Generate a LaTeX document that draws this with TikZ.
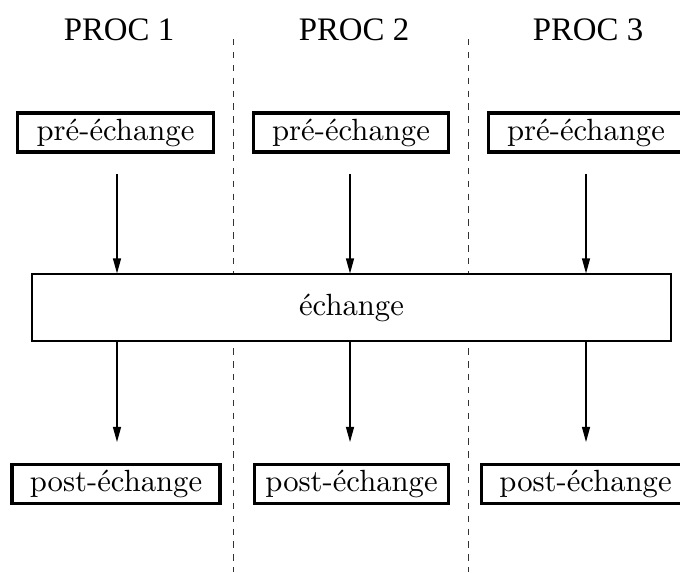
\documentclass[tikz,border=0pt]{standalone}
\usepackage{fontspec}
\newfontfamily\procfont{Liberation Serif}
\usetikzlibrary{arrows.meta}
\begin{document}
\begin{tikzpicture}[x=0.326pt,y=-0.326pt,
  proclabel/.style={font=\procfont\fontsize{10.7pt}{12pt}\selectfont,anchor=base,inner sep=0pt},
  prebox/.style={draw,line width=1pt,minimum width=63.6pt,minimum height=12.7pt,inner sep=0pt},
  postbox/.style={draw,line width=1pt,minimum width=67.8pt,minimum height=13pt,inner sep=0pt},
  exbox/.style={draw,line width=0.4pt,minimum width=208.3pt,minimum height=21.8pt,inner sep=0pt},
  arr/.style={line width=0.4pt,-{Triangle[length=4.9pt,width=2.6pt]}},
  sep/.style={dashed,dash pattern=on 2.1pt off 2.1pt,line width=0.3pt,black!80}]
\useasboundingbox (0,0) rectangle (680,572);
\node[proclabel] (proc1) at (119,40) {PROC 1};
\node[proclabel] (proc2) at (354,40) {PROC 2};
\node[proclabel] (proc3) at (588,40) {PROC 3};
\coordinate (d1t) at (233,39); \coordinate (d1b) at (233,572);
\coordinate (d2t) at (468,39); \coordinate (d2b) at (468,572);
\draw[sep] (d1t) -- (d1b);
\draw[sep] (d2t) -- (d2b);
\node[prebox] (pre1) at (115.5,132.5) {pré-échange};
\node[prebox] (pre2) at (351,132.5) {pré-échange};
\node[prebox] (pre3) at (586,132.5) {pré-échange};
\node[exbox,fill=white] (ex) at (351.5,307.5) {échange};
\node[postbox] (post1) at (116,484) {post-échange};
\node[postbox,minimum width=63pt] (post2) at (351.5,484) {post-échange};
\node[postbox] (post3) at (585.5,484) {post-échange};
\coordinate (a1) at (117,174); \coordinate (a2) at (350,174); \coordinate (a3) at (586,174);
\coordinate (b1) at (117,442); \coordinate (b2) at (350,442); \coordinate (b3) at (586,442);
\draw[arr] (a1) -- (a1 |- ex.north);
\draw[arr] (a2) -- (a2 |- ex.north);
\draw[arr] (a3) -- (a3 |- ex.north);
\draw[arr] (b1 |- ex.south) -- (b1);
\draw[arr] (b2 |- ex.south) -- (b2);
\draw[arr] (b3 |- ex.south) -- (b3);
\end{tikzpicture}
\end{document}
